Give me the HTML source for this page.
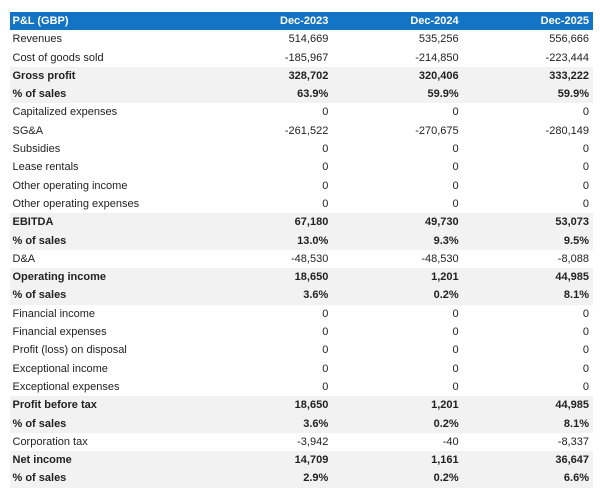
<!DOCTYPE html>
<html>
<head>
<meta charset="utf-8">
<style>
html,body{margin:0;padding:0;background:#fff;}
body{width:600px;height:501px;position:relative;overflow:hidden;font-family:"Liberation Sans",Arial,sans-serif;font-size:11px;color:#222;}
.t{position:absolute;left:10px;top:12px;width:583px;}
.r{display:flex;height:18.3px;line-height:18.3px;}
.r div{box-sizing:border-box;white-space:nowrap;}
.l{width:192px;padding-left:2.5px;}
.n{width:130.33px;text-align:right;padding-right:4px;}
.h{background:#1373c4;color:#fff;font-weight:bold;}
.b{background:#f2f2f2;font-weight:bold;}
</style>
</head>
<body>
<div class="t">
<div class="r h"><div class="l">P&amp;L (GBP)</div><div class="n">Dec-2023</div><div class="n">Dec-2024</div><div class="n">Dec-2025</div></div>
<div class="r"><div class="l">Revenues</div><div class="n">514,669</div><div class="n">535,256</div><div class="n">556,666</div></div>
<div class="r"><div class="l">Cost of goods sold</div><div class="n">-185,967</div><div class="n">-214,850</div><div class="n">-223,444</div></div>
<div class="r b"><div class="l">Gross profit</div><div class="n">328,702</div><div class="n">320,406</div><div class="n">333,222</div></div>
<div class="r b"><div class="l">% of sales</div><div class="n">63.9%</div><div class="n">59.9%</div><div class="n">59.9%</div></div>
<div class="r"><div class="l">Capitalized expenses</div><div class="n">0</div><div class="n">0</div><div class="n">0</div></div>
<div class="r"><div class="l">SG&amp;A</div><div class="n">-261,522</div><div class="n">-270,675</div><div class="n">-280,149</div></div>
<div class="r"><div class="l">Subsidies</div><div class="n">0</div><div class="n">0</div><div class="n">0</div></div>
<div class="r"><div class="l">Lease rentals</div><div class="n">0</div><div class="n">0</div><div class="n">0</div></div>
<div class="r"><div class="l">Other operating income</div><div class="n">0</div><div class="n">0</div><div class="n">0</div></div>
<div class="r"><div class="l">Other operating expenses</div><div class="n">0</div><div class="n">0</div><div class="n">0</div></div>
<div class="r b"><div class="l">EBITDA</div><div class="n">67,180</div><div class="n">49,730</div><div class="n">53,073</div></div>
<div class="r b"><div class="l">% of sales</div><div class="n">13.0%</div><div class="n">9.3%</div><div class="n">9.5%</div></div>
<div class="r"><div class="l">D&amp;A</div><div class="n">-48,530</div><div class="n">-48,530</div><div class="n">-8,088</div></div>
<div class="r b"><div class="l">Operating income</div><div class="n">18,650</div><div class="n">1,201</div><div class="n">44,985</div></div>
<div class="r b"><div class="l">% of sales</div><div class="n">3.6%</div><div class="n">0.2%</div><div class="n">8.1%</div></div>
<div class="r"><div class="l">Financial income</div><div class="n">0</div><div class="n">0</div><div class="n">0</div></div>
<div class="r"><div class="l">Financial expenses</div><div class="n">0</div><div class="n">0</div><div class="n">0</div></div>
<div class="r"><div class="l">Profit (loss) on disposal</div><div class="n">0</div><div class="n">0</div><div class="n">0</div></div>
<div class="r"><div class="l">Exceptional income</div><div class="n">0</div><div class="n">0</div><div class="n">0</div></div>
<div class="r"><div class="l">Exceptional expenses</div><div class="n">0</div><div class="n">0</div><div class="n">0</div></div>
<div class="r b"><div class="l">Profit before tax</div><div class="n">18,650</div><div class="n">1,201</div><div class="n">44,985</div></div>
<div class="r b"><div class="l">% of sales</div><div class="n">3.6%</div><div class="n">0.2%</div><div class="n">8.1%</div></div>
<div class="r"><div class="l">Corporation tax</div><div class="n">-3,942</div><div class="n">-40</div><div class="n">-8,337</div></div>
<div class="r b"><div class="l">Net income</div><div class="n">14,709</div><div class="n">1,161</div><div class="n">36,647</div></div>
<div class="r b"><div class="l">% of sales</div><div class="n">2.9%</div><div class="n">0.2%</div><div class="n">6.6%</div></div>
</div>
</body>
</html>
